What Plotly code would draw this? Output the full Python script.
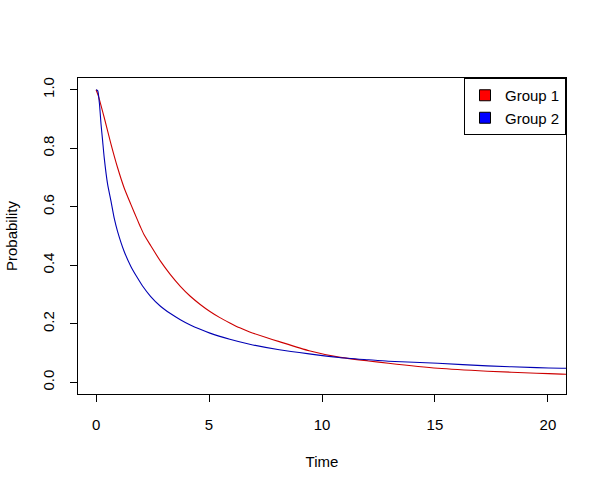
import plotly.graph_objects as go

# Values
time_g1 = [0, 0.10, 0.36, 0.66, 0.95, 1.24, 1.54, 1.83, 1.97, 2.12, 2.41, 2.85, 3.29, 3.73,
           4.17, 4.61, 5.04, 5.48, 5.92, 6.36, 6.80, 7.53, 8.11, 9.43, 10.75, 12.06, 12.94,
           15.13, 17.32, 19.5, 20.6, 21.5]
prob_g1 = [1.0, 0.979, 0.905, 0.814, 0.734, 0.665, 0.608, 0.555, 0.530, 0.505, 0.468, 0.414,
           0.368, 0.328, 0.294, 0.266, 0.242, 0.221, 0.203, 0.186, 0.172, 0.153, 0.139, 0.108,
           0.086, 0.073, 0.065, 0.048, 0.038, 0.031, 0.028, 0.026]

time_g2 = [0, 0.07, 0.15, 0.22, 0.29, 0.36, 0.51, 0.66, 0.80, 0.95, 1.24, 1.54, 1.83, 2.05,
           2.41, 2.85, 3.29, 3.73, 4.17, 4.61, 5.04, 5.92, 6.80, 8.11, 9.43, 10.75, 12.06,
           12.94, 15.13, 17.32, 19.5, 20.6, 21.5]
prob_g2 = [1.0, 0.997, 0.951, 0.882, 0.825, 0.768, 0.677, 0.619, 0.562, 0.516, 0.448, 0.396,
           0.357, 0.330, 0.294, 0.260, 0.235, 0.214, 0.196, 0.181, 0.168, 0.147, 0.130, 0.111,
           0.097, 0.085, 0.077, 0.072, 0.065, 0.056, 0.050, 0.048, 0.047]

group_names = ["Group 1", "Group 2"]
x_ticks = [0, 5, 10, 15, 20]
y_ticks = [0.0, 0.2, 0.4, 0.6, 0.8, 1.0]
y_tick_text = ["0.0", "0.2", "0.4", "0.6", "0.8", "1.0"]

line_colors = ["#CD0000", "#0000B4"]
legend_colors = ["#FF0000", "#0000FF"]

FONT = "Liberation Sans, Arial"
FS = 15

fig = go.Figure()
for t, p, c in [(time_g1, prob_g1, line_colors[0]), (time_g2, prob_g2, line_colors[1])]:
    fig.add_trace(go.Scatter(x=t, y=p, mode="lines", line=dict(color=c, width=1.1, shape="spline", smoothing=0.6),
                             showlegend=False, hoverinfo="skip"))
for name, c in zip(group_names, legend_colors):
    fig.add_trace(go.Scatter(x=[None], y=[None], mode="markers", name=name,
                             marker=dict(symbol="square", size=11, color=c,
                                         line=dict(color="black", width=1))))

axis_common = dict(showgrid=False, zeroline=False, showline=True, mirror=True,
                   linecolor="black", linewidth=1, ticks="outside", ticklen=7,
                   tickcolor="black", ticklabelstandoff=10,
                   tickfont=dict(family=FONT, size=FS, color="black"))

fig.update_layout(
    width=607, height=492,
    margin=dict(l=78, r=41, t=78, b=98),
    paper_bgcolor="white", plot_bgcolor="white",
    font=dict(family=FONT, size=FS, color="black"),
    xaxis=dict(range=[-0.8, 20.8], tickvals=x_ticks,
               title=dict(text="Time", standoff=24, font=dict(size=FS)), **axis_common),
    yaxis=dict(range=[-0.04, 1.04], tickvals=y_ticks, ticktext=y_tick_text, tickangle=-90,
               title=dict(text="Probability", standoff=18, font=dict(size=FS)), **axis_common),
    legend=dict(x=1, y=1, xanchor="right", yanchor="top", bordercolor="black", borderwidth=1,
                bgcolor="white", font=dict(family=FONT, size=FS), itemwidth=30, tracegroupgap=0),
)
fig.write_html("out.html")
